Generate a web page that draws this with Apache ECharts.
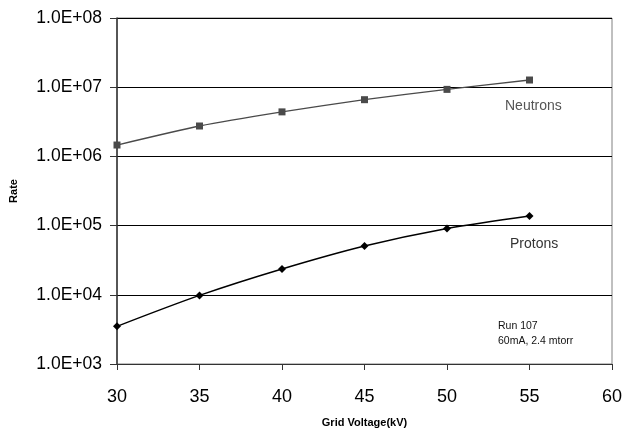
<!DOCTYPE html>
<html><head><meta charset="utf-8">
<script src="https://cdn.jsdelivr.net/npm/echarts@6/dist/echarts.min.js"></script>
<style>html,body{margin:0;padding:0;background:#fff}#c{width:626px;height:430px}</style>
</head><body><div id="c"></div>
<script>
var voltages = [30, 35, 40, 45, 50, 55];
var neutrons = [1.46e6, 2.75e6, 4.4e6, 6.6e6, 9.3e6, 1.27e7];
var protons = [3.5e3, 9.8e3, 2.36e4, 5.07e4, 9.1e4, 1.38e5];
var xTicks = [30, 35, 40, 45, 50, 55, 60];
var yTicks = [1e3, 1e4, 1e5, 1e6, 1e7, 1e8];

function pairs(xs, ys){ return xs.map(function(x,i){ return [x, ys[i]]; }); }
function fmtE(v){
  var e = Math.round(Math.log10(v));
  var m = v / Math.pow(10, e);
  var s = (e < 0 ? '-' : '+') + (Math.abs(e) < 10 ? '0' : '') + Math.abs(e);
  return m.toFixed(1) + 'E' + s;
}
var chart = echarts.init(document.getElementById('c'), null, {renderer:'canvas'});
var font = 'Liberation Sans, Arial, sans-serif';
chart.setOption({
  animation: false,
  backgroundColor: '#fff',
  grid: {left:117, right:14, top:18, bottom:66, containLabel:false, outerBoundsMode:'none',
         show:true, borderColor:'#808080', borderWidth:1, backgroundColor:'transparent'},
  xAxis: {
    type:'value', min:xTicks[0], max:xTicks[xTicks.length-1], interval:5,
    name:'Grid Voltage(kV)', nameLocation:'middle', nameGap:53,
    nameTextStyle:{fontFamily:font, fontWeight:'bold', fontSize:11, color:'#000'},
    axisLine:{show:true, lineStyle:{color:'#333', width:1}},
    axisTick:{show:true, inside:false, length:6, lineStyle:{color:'#333'}},
    axisLabel:{fontFamily:font, fontSize:18, color:'#000', margin:24},
    splitLine:{show:false}
  },
  yAxis: {
    type:'log', logBase:10, min:yTicks[0], max:yTicks[yTicks.length-1],
    name:'Rate', nameLocation:'middle', nameGap:98, nameRotate:90,
    nameTextStyle:{fontFamily:font, fontWeight:'bold', fontSize:11, color:'#000'},
    axisLine:{show:true, lineStyle:{color:'#333', width:1.5}},
    axisTick:{show:true, inside:false, length:7, lineStyle:{color:'#333'}},
    axisLabel:{fontFamily:font, fontSize:17.5, color:'#000', margin:15, formatter:function(v){return fmtE(v);}},
    splitLine:{show:true, lineStyle:{color:'#000', width:1}},
    minorTick:{show:false}
  },
  series: [
    {name:'Neutrons', type:'line', data:pairs(voltages, neutrons), smooth:0.2,
     symbol:'rect', symbolSize:7, itemStyle:{color:'#4a4a4a'}, lineStyle:{color:'#4a4a4a', width:1.3}},
    {name:'Protons', type:'line', data:pairs(voltages, protons), smooth:0.3,
     symbol:'diamond', symbolSize:8, itemStyle:{color:'#000'}, lineStyle:{color:'#000', width:1.5}}
  ],
  graphic: [
    {type:'text', left:505, top:99, style:{text:'Neutrons', fontFamily:font, fontSize:14, fill:'#555'}},
    {type:'text', left:510, top:237, style:{text:'Protons', fontFamily:font, fontSize:14, fill:'#333'}},
    {type:'text', left:498, top:319, style:{text:'Run 107\n60mA, 2.4 mtorr', fontFamily:font, fontSize:10.5, lineHeight:15, fill:'#111'}}
  ]
});
</script></body></html>
